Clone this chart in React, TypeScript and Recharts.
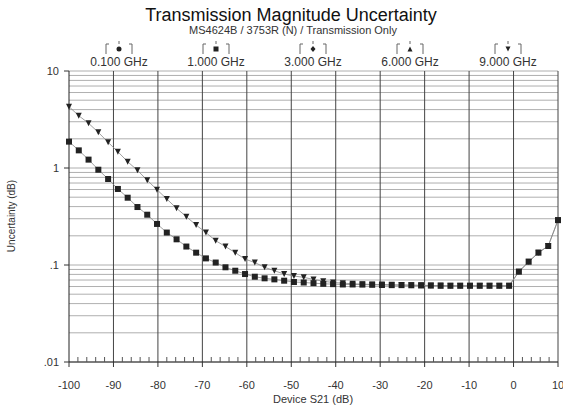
import { LineChart, Line, XAxis, YAxis, CartesianGrid, ReferenceLine } from 'recharts';

// Device S21 sweep (dB)
const sweepDb = [
  -100, -97.8, -95.6, -93.4, -91.2, -89, -86.8, -84.6, -82.4, -80.2,
  -78, -75.8, -73.6, -71.4, -69.2, -67, -64.8, -62.6, -60.4, -58.2,
  -56, -53.8, -51.6, -49.4, -47.2, -45, -42.8, -40.6, -38.4, -36.2,
  -34, -31.8, -29.6, -27.4, -25.2, -23, -20.8, -18.6, -16.4, -14.2,
  -12, -9.8, -7.6, -5.4, -3.2, -1, 1.2, 3.4, 5.6, 7.8, 10,
];

// uncertainty at 9.000 GHz (dB)
const unc9GHz = [
  4.29, 3.46, 2.89, 2.33, 1.84, 1.47, 1.16, 0.946, 0.747, 0.597,
  0.479, 0.384, 0.315, 0.258, 0.216, 0.178, 0.155, 0.134, 0.115, 0.106,
  0.0947, 0.0873, 0.0807, 0.077, 0.0746, 0.071, 0.068, 0.066, 0.065, 0.064,
  0.0635, 0.063, 0.063, 0.0625, 0.0622, 0.062, 0.0618, 0.0615, 0.0613, 0.061,
  0.061, 0.061, 0.061, 0.061, 0.061, 0.061, 0.0853, 0.108, 0.134, 0.157, 0.29,
];

// uncertainty at 1.000 GHz (dB)
const unc1GHz = [
  1.87, 1.52, 1.22, 0.96, 0.77, 0.608, 0.494, 0.396, 0.33, 0.265,
  0.216, 0.184, 0.155, 0.134, 0.117, 0.106, 0.0947, 0.0873, 0.0807, 0.0757,
  0.0729, 0.0711, 0.0689, 0.0668, 0.066, 0.065, 0.064, 0.0635, 0.063, 0.063,
  0.0628, 0.0625, 0.0622, 0.062, 0.062, 0.0618, 0.0615, 0.0613, 0.061, 0.061,
  0.061, 0.061, 0.061, 0.061, 0.061, 0.061, 0.0853, 0.108, 0.134, 0.157, 0.29,
];

const xMajorTicks = [-100, -90, -80, -70, -60, -50, -40, -30, -20, -10, 0, 10];
const xMinorSteps = [2, 4, 6, 8];
const yTicks = [
  0.01, 0.02, 0.03, 0.04, 0.05, 0.06, 0.07, 0.08, 0.09,
  0.1, 0.2, 0.3, 0.4, 0.5, 0.6, 0.7, 0.8, 0.9,
  1, 2, 3, 4, 5, 6, 7, 8, 9, 10,
];
const yDecadeLabels: Record<string, string> = { '10': '10', '1': '1', '0.1': '.1', '0.01': '.01' };

const markerFreqs = ['0.100 GHz', '1.000 GHz', '3.000 GHz', '6.000 GHz', '9.000 GHz'];
const markerShapes = ['circle', 'square', 'diamond', 'triangle', 'triangleDown'];
const markerCenters = [119, 216, 313, 410, 508];

const rows = sweepDb.map((x, i) => ({ x, f9: unc9GHz[i], f1: unc1GHz[i] }));
const xAllTicks = xMajorTicks.flatMap((t) => (t < 10 ? [t, ...xMinorSteps.map((s) => t + s)] : [t]));

const FONT = '"Liberation Sans", Arial, sans-serif';
const INK = '#222';

function Marker({ shape, cx, cy, r = 3 }: { shape: string; cx: number; cy: number; r?: number }) {
  if (shape === 'circle') return <circle cx={cx} cy={cy} r={r} fill={INK} />;
  if (shape === 'square') return <rect x={cx - r} y={cy - r} width={r * 2} height={r * 2} fill={INK} />;
  if (shape === 'diamond')
    return <polygon points={`${cx},${cy - r - 0.5} ${cx + r},${cy} ${cx},${cy + r + 0.5} ${cx - r},${cy}`} fill={INK} />;
  if (shape === 'triangle')
    return <polygon points={`${cx - r},${cy + r} ${cx + r},${cy + r} ${cx},${cy - r}`} fill={INK} />;
  return <polygon points={`${cx - r},${cy - r} ${cx + r},${cy - r} ${cx},${cy + r}`} fill={INK} />;
}

const dotFor = (shape: string) => (props: any) => {
  const { cx, cy, index } = props;
  if (cx == null || cy == null) return <g key={index} />;
  return <Marker key={index} shape={shape} cx={cx} cy={cy} r={3} />;
};

function XTick(props: any) {
  const { x, y, payload } = props;
  const v = payload.value;
  const major = xMajorTicks.includes(v);
  if (!major) return <line x1={x} x2={x} y1={y} y2={y - 5} stroke="#555" strokeWidth={1} />;
  return (
    <g>
      <line x1={x} x2={x} y1={y} y2={y + 5} stroke="#333" strokeWidth={1} />
      <text x={x} y={y + 27} textAnchor="middle" fontSize={11} fill="#333" fontFamily={FONT}>
        {v}
      </text>
    </g>
  );
}

function YTick(props: any) {
  const { x, y, payload } = props;
  const label = yDecadeLabels[String(payload.value)];
  if (!label) return <g />;
  return (
    <g>
      <line x1={x - 5} x2={x} y1={y} y2={y} stroke="#333" strokeWidth={1} />
      <text x={x - 10} y={y + 4} textAnchor="end" fontSize={11} fill="#333" fontFamily={FONT}>
        {label}
      </text>
    </g>
  );
}

export default function App() {
  return (
    <div style={{ position: 'absolute', left: 0, top: 0, width: 563, height: 409, background: '#fff' }}>
      <LineChart width={563} height={409} data={rows} margin={{ top: 71, right: 5, bottom: 0, left: 0 }}>
        <CartesianGrid vertical={false} stroke="#9a9a9a" strokeWidth={0.8} />
        <XAxis
          type="number"
          dataKey="x"
          domain={[-100, 10]}
          ticks={xAllTicks}
          interval={0}
          tickSize={0}
          tickMargin={0}
          height={47}
          tick={<XTick />}
          tickLine={false}
          axisLine={{ stroke: '#222' }}
        />
        <YAxis
          type="number"
          scale="log"
          domain={[0.01, 10]}
          allowDataOverflow
          ticks={yTicks}
          interval={0}
          tickSize={0}
          tickMargin={0}
          width={69}
          tick={<YTick />}
          tickLine={false}
          axisLine={{ stroke: '#222' }}
        />
        {xMajorTicks.slice(1).map((t) => (
          <ReferenceLine key={t} x={t} stroke="#444" strokeWidth={1} />
        ))}
        <Line
          dataKey="f9"
          stroke="#888"
          strokeWidth={0.8}
          dot={dotFor('triangleDown')}
          isAnimationActive={false}
        />
        <Line
          dataKey="f1"
          stroke="#888"
          strokeWidth={0.8}
          dot={dotFor('square')}
          isAnimationActive={false}
        />
      </LineChart>
      <svg
        width={563}
        height={409}
        style={{ position: 'absolute', left: 0, top: 0, pointerEvents: 'none' }}
        fontFamily={FONT}
      >
        <text x={291} y={21} textAnchor="middle" fontSize={18} fill="#111">
          Transmission Magnitude Uncertainty
        </text>
        <text x={293} y={34} textAnchor="middle" fontSize={11} fill="#333">
          MS4624B / 3753R (N) / Transmission Only
        </text>
        {markerFreqs.map((f, i) => {
          const cx = markerCenters[i];
          return (
            <g key={f}>
              <path
                d={`M${cx - 10},44 h-3 v10 M${cx + 10},44 h3 v10 M${cx},41 v3`}
                stroke="#666"
                strokeWidth={1}
                fill="none"
              />
              <Marker shape={markerShapes[i]} cx={cx} cy={49} r={2.5} />
              <text x={cx} y={66} textAnchor="middle" fontSize={12} fill="#333">
                {f}
              </text>
            </g>
          );
        })}
        <text x={313} y={403} textAnchor="middle" fontSize={11} fill="#333">
          Device S21 (dB)
        </text>
        <text
          x={0}
          y={0}
          transform="translate(15,216) rotate(-90)"
          textAnchor="middle"
          fontSize={10}
          fill="#333"
        >
          Uncertainty (dB)
        </text>
      </svg>
    </div>
  );
}
